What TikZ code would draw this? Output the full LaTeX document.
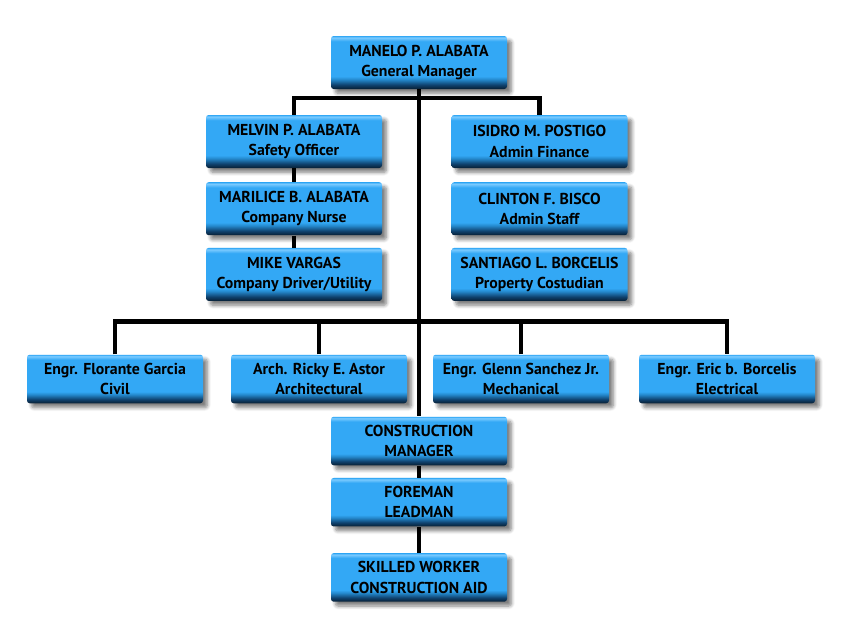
\documentclass[tikz,border=0pt]{standalone}
\usepackage{fontspec}
\setmainfont{PT Sans}
\usepackage{tikz}
\usetikzlibrary{positioning,shadows.blur}

\definecolor{bdark}{HTML}{071E33}
\definecolor{bnavy}{HTML}{0F426E}
\definecolor{bmid}{HTML}{2488CC}
\definecolor{bblue}{HTML}{33A8F5}
\definecolor{blight}{HTML}{7CCBFF}
\pgfdeclareverticalshading{boxshade}{100bp}{color(0bp)=(bdark); color(25bp)=(bdark); color(29bp)=(bnavy); color(34bp)=(bmid); color(37bp)=(bblue); color(70bp)=(bblue); color(73.5bp)=(blight); color(75bp)=(bblue); color(100bp)=(bblue)}

\begin{document}
\begin{tikzpicture}[
node distance=0.27cm,
box/.style={shading=boxshade, rounded corners=1.5pt, inner sep=2pt, font=\fontsize{9}{11.5}\selectfont\bfseries, align=center, minimum width=3.52cm, minimum height=1.06cm, blur shadow={shadow xshift=2.5pt, shadow yshift=-2.5pt, shadow blur steps=6, shadow opacity=50}},
lowbox/.style={box, minimum height=0.97cm},
conn/.style={line width=2.4pt, black}
]
\useasboundingbox (0,0) rectangle (16.82,-12.38);
% top
\node[box] (gm) at (8.38,-1.25) {MANELO P. ALABATA\\General Manager};
% staff
\node[box] (melvin) at (5.88,-2.83) {MELVIN P. ALABATA\\Safety Officer};
\node[box, below=of melvin] (marilice) {MARILICE B. ALABATA\\Company Nurse};
\node[box, below=0.24cm of marilice] (mike) {MIKE VARGAS\\Company Driver/Utility};
\node[box] (isidro) at (10.79,-2.83) {ISIDRO M. POSTIGO\\Admin Finance};
\node[box, below=of isidro] (clinton) {CLINTON F. BISCO\\Admin Staff};
\node[box, below=0.24cm of clinton] (santiago) {SANTIAGO L. BORCELIS\\Property Costudian};
% engineers
\node[lowbox] (florante) at (2.30,-7.58) {Engr. Florante Garcia\\Civil};
\node[lowbox] (ricky) at (6.38,-7.58) {Arch. Ricky E. Astor\\Architectural};
\node[lowbox] (glenn) at (10.42,-7.58) {Engr. Glenn Sanchez Jr.\\Mechanical};
\node[lowbox] (eric) at (14.54,-7.58) {Engr. Eric b. Borcelis\\Electrical};
% site
\node[lowbox] (cm) at (8.38,-8.82) {CONSTRUCTION\\MANAGER};
\node[lowbox, below=0.24cm of cm] (foreman) {FOREMAN\\LEADMAN};
\node[lowbox, below=0.52cm of foreman] (skilled) {SKILLED WORKER\\CONSTRUCTION AID};

\draw[conn] (gm) -- (cm);
\draw[conn] (melvin.north) -- ++(0,0.34) -| (isidro.north);
\draw[conn] (melvin) -- (marilice);
\draw[conn] (marilice) -- (mike);
\draw[conn] (florante.north) -- ++(0,0.66) -| (eric.north);
\draw[conn] (ricky.north) -- ++(0,0.66);
\draw[conn] (glenn.north) -- ++(0,0.66);
\draw[conn] (cm) -- (foreman);
\draw[conn] (foreman) -- (skilled);
\end{tikzpicture}
\end{document}
